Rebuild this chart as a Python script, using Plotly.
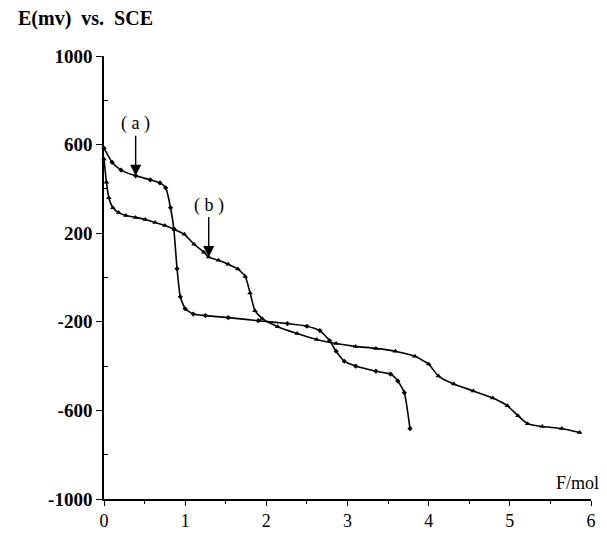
import plotly.graph_objects as go

# Curve (a)
a_x = [0, 0.1, 0.21, 0.39, 0.57, 0.69, 0.76, 0.82, 0.86, 0.9, 0.94, 1.0, 1.1, 1.25, 1.53,
       1.9, 2.26, 2.5, 2.66, 2.78, 2.86, 2.96, 3.1, 3.35, 3.53, 3.62, 3.7, 3.77]
a_y = [584, 520, 485, 459, 441, 427, 405, 315, 220, 40, -87, -141, -165, -172, -181,
       -195, -208, -220, -240, -285, -333, -378, -400, -423, -436, -467, -520, -682]

# Curve (b)
b_x = [0, 0.03, 0.06, 0.11, 0.18, 0.27, 0.39, 0.51, 0.63, 0.75, 0.87, 0.99, 1.11, 1.23,
       1.29, 1.41, 1.53, 1.65, 1.74, 1.8, 1.86, 1.95, 2.14, 2.38, 2.62, 2.86, 3.1, 3.35,
       3.59, 3.83, 4.0, 4.12, 4.31, 4.55, 4.79, 4.97, 5.1, 5.22, 5.4, 5.64, 5.86]
b_y = [535, 430, 360, 315, 293, 280, 271, 262, 248, 235, 217, 195, 150, 114,
       92, 78, 60, 38, 5, -70, -150, -186, -222, -253, -280, -298, -311, -320,
       -333, -356, -391, -445, -481, -512, -544, -579, -624, -660, -673, -682, -700]

y_major = [-1000, -600, -200, 200, 600, 1000]

FONT = "Liberation Serif"

fig = go.Figure()
fig.add_trace(go.Scatter(
    x=a_x, y=a_y, mode="lines+markers",
    line=dict(color="black", width=1.6, shape="spline", smoothing=0.5),
    marker=dict(symbol="diamond", size=4, color="black"),
    cliponaxis=False, showlegend=False))
fig.add_trace(go.Scatter(
    x=b_x, y=b_y, mode="lines+markers",
    line=dict(color="black", width=1.6, shape="spline", smoothing=0.5),
    marker=dict(symbol="triangle-up", size=5, color="black"),
    cliponaxis=False, showlegend=False))

fig.update_layout(
    width=607, height=535,
    margin=dict(l=96, r=24, t=48, b=27),
    paper_bgcolor="white", plot_bgcolor="white",
    font=dict(family=FONT, color="black"),
    xaxis=dict(range=[0, 6], showgrid=False, zeroline=False, showline=True,
               linecolor="black", linewidth=1.5, ticks="outside", ticklen=5,
               tickwidth=1.2, tickcolor="black", dtick=1, tick0=0,
               tickfont=dict(family=FONT, size=18),
               minor=dict(ticks="outside", ticklen=3, dtick=0.5, tick0=0,
                          tickcolor="black", tickwidth=1.2)),
    yaxis=dict(range=[-1000, 1000], showgrid=False, zeroline=False, showline=True,
               linecolor="black", linewidth=1.5, ticks="outside", ticklen=6,
               tickwidth=1.2, tickcolor="black", tickvals=y_major,
               ticktext=[str(v) for v in y_major],
               tickfont=dict(family=FONT, size=19, weight="bold"),
               minor=dict(ticks="inside", ticklen=4, dtick=400, tick0=-800,
                          tickcolor="black", tickwidth=1.2)),
    annotations=[
        dict(text="E(mv)  vs.  SCE", xref="paper", yref="paper", x=-0.18, y=1.085,
             xanchor="left", yanchor="middle", showarrow=False,
             font=dict(family=FONT, size=20, weight="bold")),
        dict(text="F/mol", xref="paper", yref="paper", x=1.02, y=0.035,
             xanchor="right", yanchor="middle", showarrow=False,
             font=dict(family=FONT, size=18)),
        dict(text="( a )", x=0.39, y=459, xref="x", yref="y", ax=0, ay=-52,
             showarrow=True, arrowhead=2, arrowsize=1.6, arrowwidth=1.4,
             arrowcolor="black", font=dict(family=FONT, size=18)),
        dict(text="( b )", x=1.29, y=92, xref="x", yref="y", ax=0, ay=-52,
             showarrow=True, arrowhead=2, arrowsize=1.6, arrowwidth=1.4,
             arrowcolor="black", font=dict(family=FONT, size=18)),
    ],
)

fig.write_html("out.html")
